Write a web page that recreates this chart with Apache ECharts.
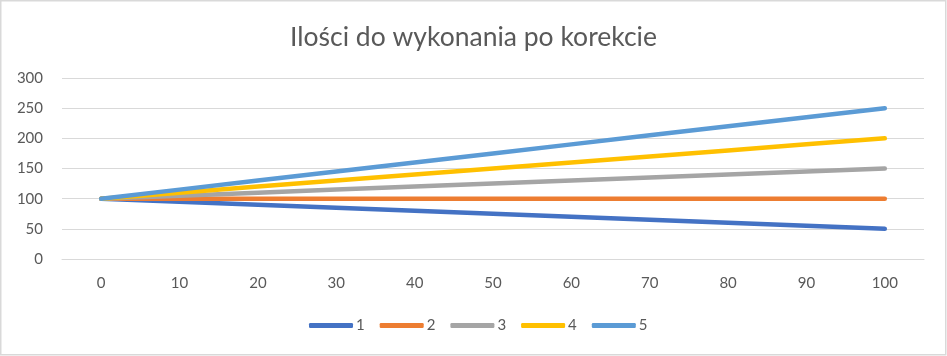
<!DOCTYPE html>
<html>
<head>
<meta charset="utf-8">
<script src="https://cdn.jsdelivr.net/npm/echarts@6/dist/echarts.min.js"></script>
<style>html,body{margin:0;padding:0;background:#fff}#c{width:947px;height:356px}</style>
</head>
<body>
<div id="c"></div>
<script>
const categories = ['0','10','20','30','40','50','60','70','80','90','100'];
const s1 = [100,95,90,85,80,75,70,65,60,55,50];
const s2 = [100,100,100,100,100,100,100,100,100,100,100];
const s3 = [100,105,110,115,120,125,130,135,140,145,150];
const s4 = [100,110,120,130,140,150,160,170,180,190,200];
const s5 = [100,115,130,145,160,175,190,205,220,235,250];
const seriesNames = ['1','2','3','4','5'];
const colors = ['#4472C4','#ED7D31','#A5A5A5','#FFC000','#5B9BD5'];
const font = 'Lato, "Liberation Sans", sans-serif';

const chart = echarts.init(document.getElementById('c'), null, {renderer:'canvas'});
const data = [s1,s2,s3,s4,s5];
chart.setOption({
  animation:false,
  color: colors,
  title:{text:'Ilości do wykonania po korekcie', left:'center', top:19,
    textStyle:{fontFamily:font, fontSize:26.5, fontWeight:'normal', color:'#595959'}},
  grid:{left:62, right:23, top:78, bottom:97, containLabel:false},
  legend:{bottom:18, left:304, itemWidth:44, itemHeight:5, itemGap:15,
    icon:'roundRect',
    textStyle:{fontFamily:font, fontSize:15, color:'#595959', padding:[0,0,0,-2]},
    data: seriesNames},
  xAxis:{type:'category', data:categories, boundaryGap:true,
    axisLine:{show:true, lineStyle:{color:'#D9D9D9', width:1}},
    axisTick:{show:false},
    axisLabel:{fontFamily:font, fontSize:15, color:'#595959', margin:17}},
  yAxis:{type:'value', min:0, max:300, interval:50,
    axisLine:{show:false}, axisTick:{show:false},
    splitLine:{lineStyle:{color:'#D9D9D9', width:1}},
    axisLabel:{fontFamily:font, fontSize:15, color:'#595959', margin:19}},
  series: data.map((d,i)=>({name:seriesNames[i], type:'line', data:d, symbol:'none',
    lineStyle:{width:4.5, cap:'round', color:colors[i]}, itemStyle:{color:colors[i]}})),
  graphic:[{type:'rect', shape:{x:0.75,y:0.75,width:945,height:354},
    style:{fill:'none', stroke:'#D9D9D9', lineWidth:1.5}, silent:true}]
});
</script>
</body>
</html>
